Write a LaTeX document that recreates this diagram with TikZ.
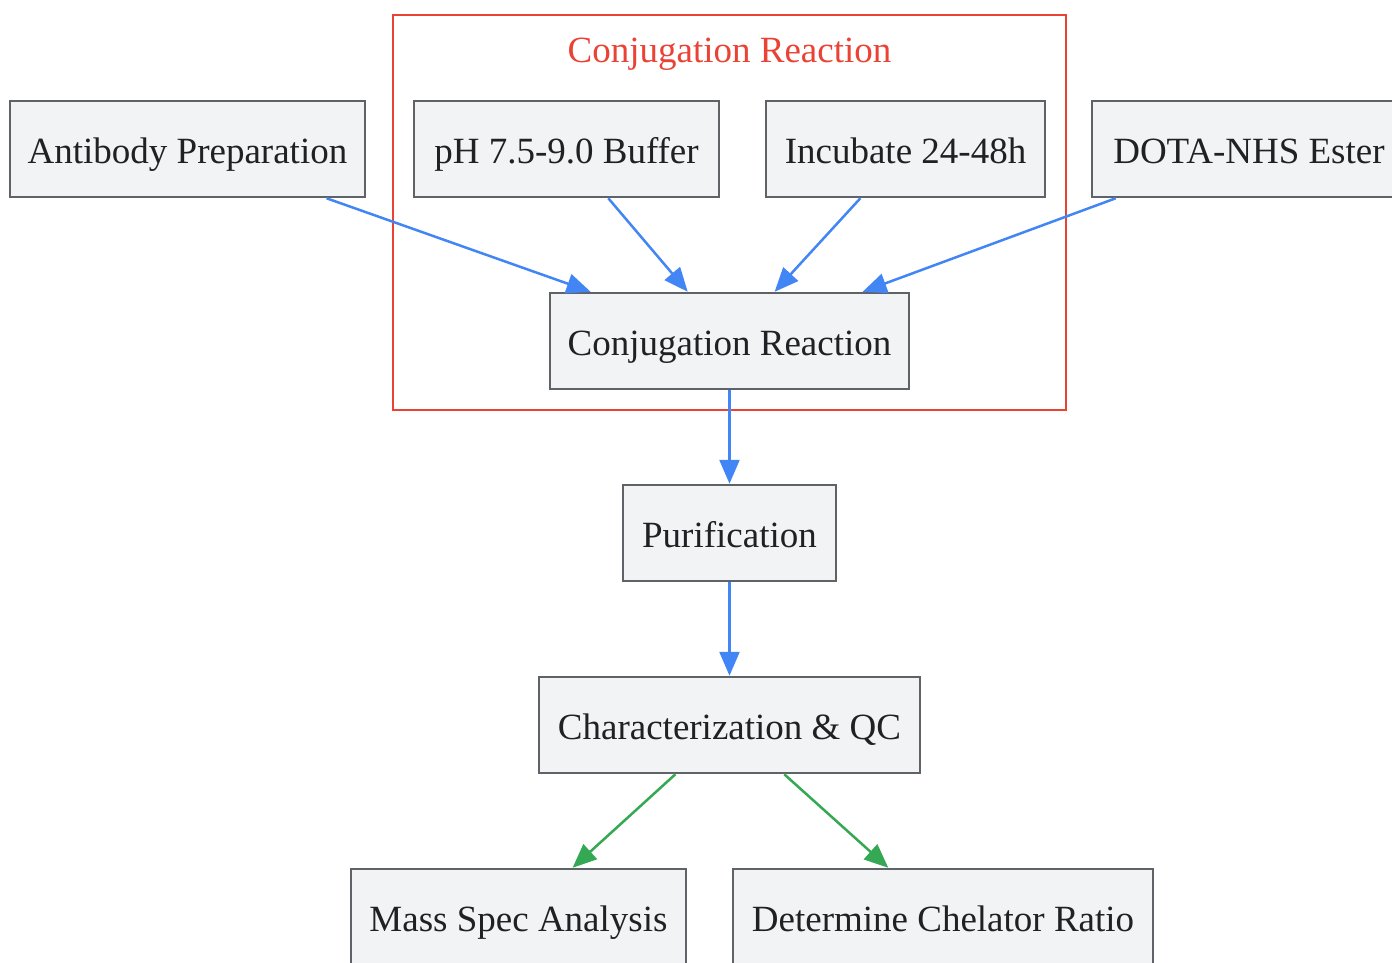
\documentclass[tikz,border=0pt]{standalone}
\usepackage{fontspec}
\setmainfont{Liberation Serif}
\usetikzlibrary{arrows.meta}
\definecolor{boxfill}{HTML}{F2F3F5}
\definecolor{boxdraw}{HTML}{5F6368}
\definecolor{txt}{HTML}{202124}
\definecolor{eblue}{HTML}{4285F4}
\definecolor{egreen}{HTML}{34A853}
\definecolor{cred}{HTML}{EA4335}
\begin{document}
\begin{tikzpicture}[x=1pt,y=-1pt,
  lbl/.style={font=\fontsize{37}{44}\selectfont,text height=29pt,text depth=0pt,inner sep=0pt},
  stepbox/.style={lbl,draw=boxdraw,fill=boxfill,line width=2.5pt,text=txt,
    minimum height=96pt},
  blueedge/.style={draw=eblue,line width=2.5pt,-{Triangle[length=24pt,width=20pt]}},
  greenedge/.style={draw=egreen,line width=2.5pt,-{Triangle[length=24pt,width=20pt]}}]
\useasboundingbox (0,0) rectangle (1392,962);
\begin{scope}
\clip (0,0) rectangle (1392,962);
% cluster
\draw[cred,line width=2.5pt] (393,15) rectangle (1066,410);
\node[lbl,text=cred] (ctitle) at (729.5,48) {Conjugation Reaction};
% nodes
\node[stepbox,minimum width=355pt] (ab) at (187.5,149) {Antibody Preparation};
\node[stepbox,minimum width=305pt] (ph) at (566.5,149) {pH 7.5-9.0 Buffer};
\node[stepbox,minimum width=279pt] (inc) at (905.5,149) {Incubate 24-48h};
\node[stepbox,minimum width=314pt] (dota) at (1249,149) {DOTA-NHS Ester};
\node[stepbox,minimum width=359pt] (conj) at (729.5,341) {Conjugation Reaction};
\node[stepbox,minimum width=213pt] (pur) at (729.5,533) {Purification};
\node[stepbox,minimum width=381pt] (char) at (729.5,725) {Characterization \& QC};
\node[stepbox,minimum width=335pt] (mass) at (518.5,917) {Mass Spec Analysis};
\node[stepbox,minimum width=420pt] (det) at (943,917) {Determine Chelator Ratio};
% edges
\draw[blueedge] (ab) -- (conj);
\draw[blueedge] (ph) -- (conj);
\draw[blueedge] (inc) -- (conj);
\draw[blueedge] (dota) -- (conj);
\draw[blueedge] (conj) -- (pur);
\draw[blueedge] (pur) -- (char);
\draw[greenedge] (char) -- (mass);
\draw[greenedge] (char) -- (det);
\end{scope}
\end{tikzpicture}
\end{document}
